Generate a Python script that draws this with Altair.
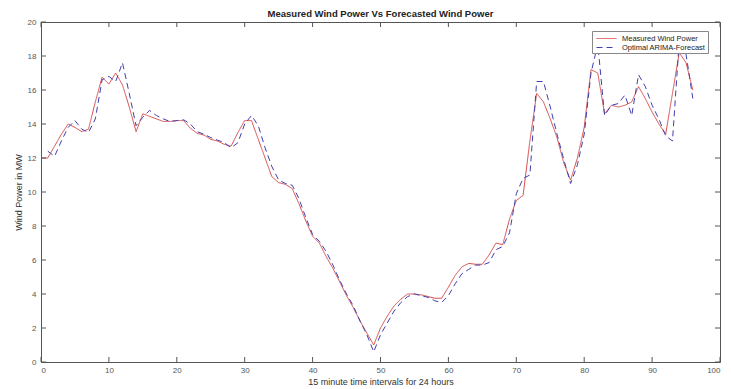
import altair as alt
import pandas as pd

# ---- data ----
x_vals = list(range(97))
measured = [12.0, 12.0, 12.7, 13.4, 14.0, 13.8, 13.55, 13.7, 15.3, 16.75,
            16.35, 17.0, 16.3, 15.0, 13.55, 14.6, 14.45, 14.3, 14.15, 14.15,
            14.2, 14.2, 13.75, 13.45, 13.35, 13.1, 13.0, 12.8, 12.7, 13.5,
            14.2, 14.2, 13.1, 12.0, 10.9, 10.55, 10.45, 10.2, 9.3, 8.3,
            7.4, 7.0, 6.2, 5.5, 4.7, 3.9, 3.2, 2.4, 1.7, 1.0,
            2.0, 2.7, 3.3, 3.7, 4.0, 4.0, 3.95, 3.85, 3.75, 3.75,
            4.4, 5.1, 5.6, 5.8, 5.75, 5.75, 6.3, 7.0, 6.9, 8.4,
            9.5, 9.8, 13.0, 15.8, 15.3, 14.3, 13.2, 11.7, 10.7, 12.0,
            13.8, 17.2, 17.0, 14.6, 15.1, 15.0, 15.1, 15.3, 16.2, 15.5,
            14.7, 14.0, 13.4, 15.8, 18.2, 17.6, 16.0]
forecast = [None, 12.4, 12.1, 13.0, 13.8, 14.2, 13.7, 13.5, 14.3, 16.6,
            16.8, 16.5, 17.6, 15.8, 13.9, 14.4, 14.8, 14.5, 14.3, 14.15,
            14.2, 14.25, 14.0, 13.55, 13.4, 13.2, 13.05, 12.9, 12.6, 12.9,
            14.0, 14.5, 13.9, 12.6, 11.5, 10.7, 10.5, 10.4, 9.6, 8.5,
            7.5, 7.1, 6.5, 5.7, 4.8, 4.0, 3.3, 2.4, 1.6, 0.6,
            1.6, 2.3, 3.0, 3.5, 3.85, 4.0, 3.9, 3.8, 3.6, 3.5,
            3.9, 4.6, 5.2, 5.45, 5.7, 5.7, 5.85, 6.6, 6.8, 7.6,
            9.9, 10.8, 11.0, 16.5, 16.5, 15.0, 13.4, 11.9, 10.5, 11.6,
            13.4, 17.0, 18.7, 14.5, 15.1, 15.2, 15.7, 14.5, 16.9, 16.2,
            15.1, 14.3, 13.3, 13.0, 18.9, 18.1, 15.5]
series_names = ["Measured Wind Power", "Optimal ARIMA-Forecast"]
x_ticks = list(range(0, 101, 10))
y_ticks = list(range(0, 21, 2))

rows = []
for t, v in zip(x_vals, measured):
    rows.append({"t": t, "p": v, "s": series_names[0]})
for t, v in zip(x_vals, forecast):
    if v is not None:
        rows.append({"t": t, "p": v, "s": series_names[1]})
df = pd.DataFrame(rows)

W, H = 679, 340
FONT = "Liberation Sans"
FRAME = "#555555"
RED = "#d64a4a"
BLUE = "#4040b0"

xs = alt.Scale(domain=[0, 100], nice=False, zero=False)
ys = alt.Scale(domain=[0, 20], nice=False, zero=False)
x_axis = alt.Axis(values=x_ticks, title="15 minute time intervals for 24 hours",
                  labelPadding=4, titlePadding=3, labelOverlap=False)
y_axis = alt.Axis(values=y_ticks, title="Wind Power in MW",
                  labelPadding=5, titlePadding=4, labelOverlap=False)

lines = alt.Chart(df).mark_line(strokeWidth=1).encode(
    x=alt.X("t:Q", scale=xs, axis=x_axis),
    y=alt.Y("p:Q", scale=ys, axis=y_axis),
    color=alt.Color("s:N", scale=alt.Scale(domain=series_names, range=[RED, BLUE]),
                    legend=alt.Legend(title=None)),
    strokeDash=alt.StrokeDash("s:N", scale=alt.Scale(domain=series_names, range=[[1, 0], [6, 4]]),
                              legend=alt.Legend(title=None)),
    order="t:Q",
)

xt = pd.DataFrame({"t": x_ticks})
yt = pd.DataFrame({"p": y_ticks})

bottom_ticks = alt.Chart(xt).mark_rule(color=FRAME, strokeWidth=1).encode(
    x=alt.X("t:Q", scale=xs, axis=x_axis), y=alt.value(H), y2=alt.value(H - 5))
top_ticks = alt.Chart(xt).mark_rule(color=FRAME, strokeWidth=1).encode(
    x=alt.X("t:Q", scale=xs, axis=x_axis), y=alt.value(0), y2=alt.value(5))
left_ticks = alt.Chart(yt).mark_rule(color=FRAME, strokeWidth=1).encode(
    y=alt.Y("p:Q", scale=ys, axis=y_axis), x=alt.value(0), x2=alt.value(5))
right_ticks = alt.Chart(yt).mark_rule(color=FRAME, strokeWidth=1).encode(
    y=alt.Y("p:Q", scale=ys, axis=y_axis), x=alt.value(W), x2=alt.value(W - 5))

chart = alt.layer(lines, bottom_ticks, top_ticks, left_ticks, right_ticks).properties(
    width=W, height=H,
    title=alt.TitleParams("Measured Wind Power Vs Forecasted Wind Power", fontSize=9.5,
                          fontWeight="bold", font=FONT, color="#222222", offset=0),
    autosize=alt.AutoSizeParams(type="none"),
    padding={"left": 33, "top": 14, "right": 3, "bottom": 26},
).configure_view(
    stroke=FRAME, strokeWidth=1
).configure_axis(
    grid=False, ticks=False, domain=False, labelOverlap=False,
    labelFont=FONT, labelFontSize=8, labelColor="#555555",
    titleFont=FONT, titleFontSize=9, titleColor="#333333", titleFontWeight="normal",
).configure_legend(
    orient="none", legendX=551, legendY=9,
    fillColor="white", strokeColor="#888888", padding=2,
    labelFont=FONT, labelFontSize=7.5, labelColor="#222222",
    symbolType="M-3,0H1", symbolSize=100, symbolStrokeWidth=1, symbolOffset=12,
    rowPadding=0, labelOffset=5,
)

chart.save("out.html", embed_options={"renderer": "svg", "actions": False})
